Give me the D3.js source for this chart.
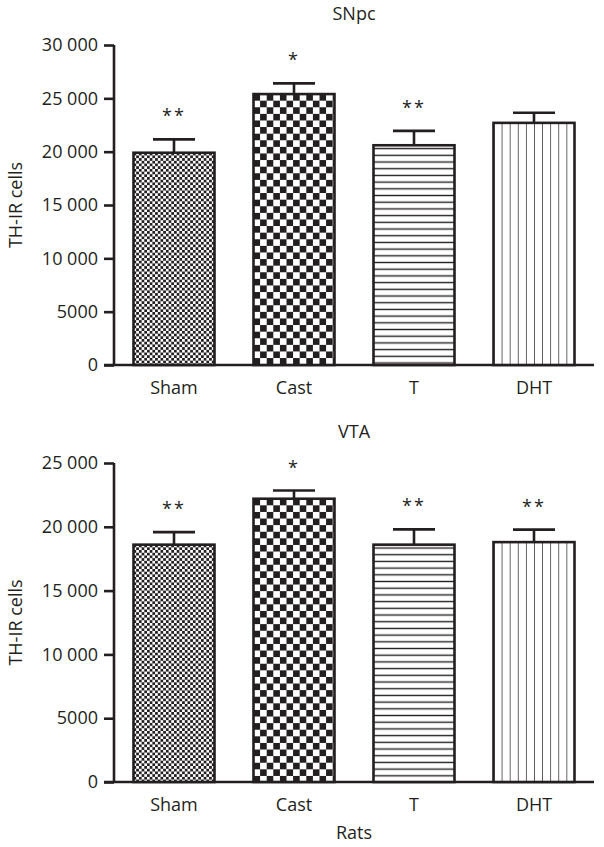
<!DOCTYPE html>
<html>
<head>
<meta charset="utf-8">
<script src="https://cdn.jsdelivr.net/npm/d3@7"></script>
<style>
   body { margin: 0; background: #fff; }
   text { font-family: "Open Sans", "Noto Sans", sans-serif; fill: #231f20; }
</style>
</head>
<body>
<div id="chart"></div>
<script>
// Les données
const categories = ["Sham", "Cast", "T", "DHT"]

const snpcMeans = [19900, 25400, 20600, 22700]
const snpcErrors = [1250, 1000, 1350, 950]
const snpcStars = ["**", "*", "**", ""]
const snpcTicks = [0, 5000, 10000, 15000, 20000, 25000, 30000]
const snpcTickLabels = ["0", "5000", "10 000", "15 000", "20 000", "25 000", "30 000"]

const vtaMeans = [18600, 22200, 18600, 18800]
const vtaErrors = [980, 640, 1200, 980]
const vtaStars = ["**", "*", "**", "**"]
const vtaTicks = [0, 5000, 10000, 15000, 20000, 25000]
const vtaTickLabels = ["0", "5000", "10 000", "15 000", "20 000", "25 000"]

const width = 604, height = 847
const ink = "#231f20"

const svg = d3.select("#chart")
   .append("svg")
   .attr("width", width)
   .attr("height", height)

const defs = svg.append("defs")

// Un motif par barre (damier fin, damier gros, lignes horizontales, lignes verticales)
function addPattern(id, kind, x0, y0) {
   if (kind === "fine" || kind === "coarse") {
      const s = kind === "fine" ? 2.7 : 6.6
      const p = defs.append("pattern")
         .attr("id", id)
         .attr("patternUnits", "userSpaceOnUse")
         .attr("x", x0).attr("y", y0)
         .attr("width", 2 * s).attr("height", 2 * s)
      p.append("rect").attr("width", 2 * s).attr("height", 2 * s).attr("fill", "#fff")
      p.append("rect").attr("x", 0).attr("y", 0).attr("width", s).attr("height", s).attr("fill", ink)
      p.append("rect").attr("x", s).attr("y", s).attr("width", s).attr("height", s).attr("fill", ink)
   } else if (kind === "hlines") {
      const s = 6.7
      const p = defs.append("pattern")
         .attr("id", id)
         .attr("patternUnits", "userSpaceOnUse")
         .attr("x", x0).attr("y", y0)
         .attr("width", 10).attr("height", s)
      p.append("rect").attr("width", 10).attr("height", s).attr("fill", "#fff")
      p.append("line").attr("x1", 0).attr("x2", 10).attr("y1", s / 2).attr("y2", s / 2)
         .attr("stroke", ink).attr("stroke-width", 1.4)
   } else {
      const s = 8.1
      const p = defs.append("pattern")
         .attr("id", id)
         .attr("patternUnits", "userSpaceOnUse")
         .attr("x", x0).attr("y", y0)
         .attr("width", s).attr("height", 10)
      p.append("rect").attr("width", s).attr("height", 10).attr("fill", "#fff")
      p.append("line").attr("x1", 0).attr("x2", 0).attr("y1", 0).attr("y2", 10)
         .attr("stroke", ink).attr("stroke-width", 1.4)
   }
}

const kinds = ["fine", "coarse", "hlines", "vlines"]

function drawPanel(name, title, means, errors, stars, ticks, tickLabels, yTop, yBottom, xTitle) {
   const g = svg.append("g")
   const yMax = ticks[ticks.length - 1]

   const x = d3.scaleBand()
      .domain(categories)
      .range([114, 594])
      .paddingInner(0.325)
      .paddingOuter(0.1625)

   const y = d3.scaleLinear()
      .domain([0, yMax])
      .range([yBottom, yTop])

   // Axe Y
   const yAxis = d3.axisLeft(y)
      .tickValues(ticks)
      .tickFormat((d, i) => tickLabels[i])
      .tickSize(10)
      .tickPadding(6)
   const ya = g.append("g")
      .attr("transform", "translate(114,0)")
      .call(yAxis)
   ya.select(".domain").attr("d", `M0,${y(yMax)}V${y(0)}`)
   ya.selectAll("path, line").attr("stroke", ink).attr("stroke-width", 2.6)
   ya.selectAll("text")
      .attr("font-size", 18)
      .attr("font-family", '"Open Sans", sans-serif')
      .attr("fill", ink)

   // Axe X (ligne seulement)
   g.append("line")
      .attr("x1", 104).attr("x2", 594)
      .attr("y1", y(0)).attr("y2", y(0))
      .attr("stroke", ink).attr("stroke-width", 2.6)

   // Barres
   categories.forEach((c, i) => {
      const id = name + "-" + kinds[i]
      addPattern(id, kinds[i], x(c), y(means[i]))
   })

   g.selectAll(".bar")
      .data(categories)
      .join("rect")
      .attr("class", "bar")
      .attr("x", d => x(d))
      .attr("y", (d, i) => y(means[i]))
      .attr("width", x.bandwidth())
      .attr("height", (d, i) => y(0) - y(means[i]))
      .attr("fill", (d, i) => `url(#${name}-${kinds[i]})`)
      .attr("stroke", ink)
      .attr("stroke-width", 2.6)

   // Barres d'erreur
   const cx = d => x(d) + x.bandwidth() / 2
   g.selectAll(".err")
      .data(categories)
      .join("line")
      .attr("class", "err")
      .attr("x1", cx).attr("x2", cx)
      .attr("y1", (d, i) => y(means[i]))
      .attr("y2", (d, i) => y(means[i] + errors[i]))
      .attr("stroke", ink).attr("stroke-width", 2.6)

   g.selectAll(".cap")
      .data(categories)
      .join("line")
      .attr("class", "cap")
      .attr("x1", d => cx(d) - 21).attr("x2", d => cx(d) + 21)
      .attr("y1", (d, i) => y(means[i] + errors[i]))
      .attr("y2", (d, i) => y(means[i] + errors[i]))
      .attr("stroke", ink).attr("stroke-width", 2.6)

   // Astérisques de significativité
   g.selectAll(".star")
      .data(categories)
      .join("text")
      .attr("class", "star")
      .attr("x", cx)
      .attr("y", (d, i) => y(means[i] + errors[i]) - 17)
      .attr("text-anchor", "middle")
      .attr("font-size", 18)
      .attr("letter-spacing", 2)
      .text((d, i) => stars[i])

   // Libellés des catégories
   g.selectAll(".cat")
      .data(categories)
      .join("text")
      .attr("class", "cat")
      .attr("x", cx)
      .attr("y", y(0) + 29)
      .attr("text-anchor", "middle")
      .attr("font-size", 18)
      .text(d => d)

   // Titre
   g.append("text")
      .attr("x", 354)
      .attr("y", yTop - 25)
      .attr("text-anchor", "middle")
      .attr("font-size", 18)
      .text(title)

   // Titre de l'axe Y
   g.append("text")
      .attr("transform", `translate(22,${(yTop + yBottom) / 2}) rotate(-90)`)
      .attr("text-anchor", "middle")
      .attr("font-size", 18)
      .text("TH-IR cells")

   if (xTitle) {
      g.append("text")
         .attr("x", 354)
         .attr("y", y(0) + 57)
         .attr("text-anchor", "middle")
         .attr("font-size", 18)
         .text(xTitle)
   }
}

drawPanel("snpc", "SNpc", snpcMeans, snpcErrors, snpcStars, snpcTicks, snpcTickLabels, 45, 365, null)
drawPanel("vta", "VTA", vtaMeans, vtaErrors, vtaStars, vtaTicks, vtaTickLabels, 463, 782, "Rats")
</script>
</body>
</html>
